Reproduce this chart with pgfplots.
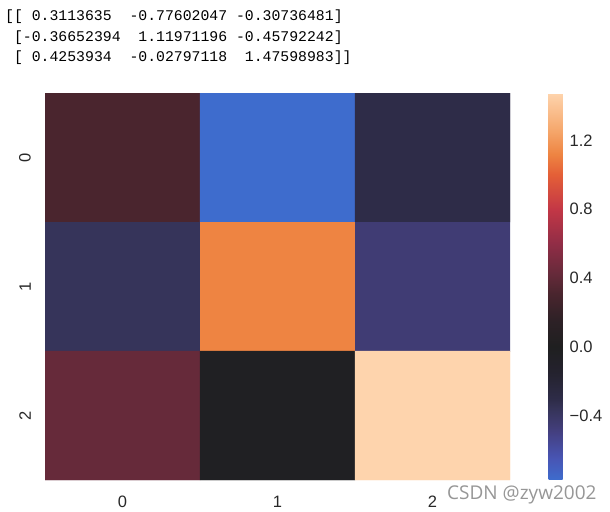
\documentclass[border=0pt]{standalone}
\usepackage{fontspec}
\setmainfont{Liberation Sans}
\setmonofont{Liberation Mono}
\newfontfamily\wmfont{Open Sans}
\usepackage{pgfplots}
\pgfplotsset{compat=1.18}
\definecolor{ticklab}{RGB}{40,40,40}
\definecolor{wmgray}{RGB}{150,150,150}
\begin{document}
\begin{tikzpicture}
\useasboundingbox (0,0) rectangle (610bp,512bp);
\def\s{\hphantom{0}}
\begin{scope}[every node/.style={anchor=base west, inner sep=0pt, font=\fontsize{14.8bp}{18bp}\ttfamily}]
\node at (5bp,491.3bp) {[[\s0.3113635\s\s-0.77602047\s-0.30736481]};
\node at (5bp,470.3bp) {\s[-0.36652394\s\s1.11971196\s-0.45792242]};
\node at (5bp,450.3bp) {\s[\s0.4253934\s\s-0.02797118\s\s1.47598983]]};
\end{scope}
\begin{axis}[
  at={(45bp,32bp)}, anchor=south west,
  scale only axis, width=465bp, height=387bp,
  xmin=-0.5, xmax=2.5, ymin=-0.5, ymax=2.5,
  y dir=reverse,
  axis line style={draw=none},
  xtick={0,1,2}, ytick={0,1,2},
  xticklabels={0,1,2}, yticklabels={0,1,2},
  major tick length=0pt,
  tick style={draw=none},
  xticklabel style={font=\fontsize{16.5bp}{19bp}\selectfont, text=ticklab, inner sep=16bp},
  yticklabel style={font=\fontsize{16.5bp}{19bp}\selectfont, text=ticklab, rotate=90, anchor=south, inner sep=14bp},
  colormap={icefire}{
    rgb255(0pt)=(62,108,205);
    rgb255(126pt)=(72,85,180);
    rgb255(276pt)=(68,64,130);
    rgb255(318pt)=(64,60,116);
    rgb255(409pt)=(54,52,90);
    rgb255(469pt)=(46,44,72);
    rgb255(626pt)=(36,34,46);
    rgb255(776pt)=(31,31,32);
    rgb255(926pt)=(45,33,38);
    rgb255(1087pt)=(74,37,46);
    rgb255(1201pt)=(102,42,58);
    rgb255(1376pt)=(145,45,70);
    rgb255(1576pt)=(195,55,70);
    rgb255(1776pt)=(228,95,55);
    rgb255(1896pt)=(238,132,66);
    rgb255(2026pt)=(245,165,105);
    rgb255(2252pt)=(254,212,173)
  },
  point meta min=-0.77602047, point meta max=1.47598983,
  colorbar,
  colorbar style={
    at={(parent axis.north east)}, anchor=north west, xshift=30bp,
    width=17bp,
    ytick={-0.4,0,0.4,0.8,1.2},
    yticklabels={−0.4,0.0,0.4,0.8,1.2},
    axis line style={draw=none},
    tick style={draw=none},
    major tick length=0pt,
    yticklabel style={font=\fontsize{16.5bp}{19bp}\selectfont, text=ticklab, inner sep=4bp},
  },
]
\addplot[matrix plot*, mesh/cols=3, point meta=explicit] table[meta=c] {
x y c
0 0 0.3113635
1 0 -0.77602047
2 0 -0.30736481
0 1 -0.36652394
1 1 1.11971196
2 1 -0.45792242
0 2 0.4253934
1 2 -0.02797118
2 2 1.47598983
};
\end{axis}
\node[anchor=base west, inner sep=0pt, text=wmgray, font=\wmfont\fontsize{19bp}{22bp}\selectfont] at (447bp,13bp) {CSDN @zyw2002};
\end{tikzpicture}
\end{document}
